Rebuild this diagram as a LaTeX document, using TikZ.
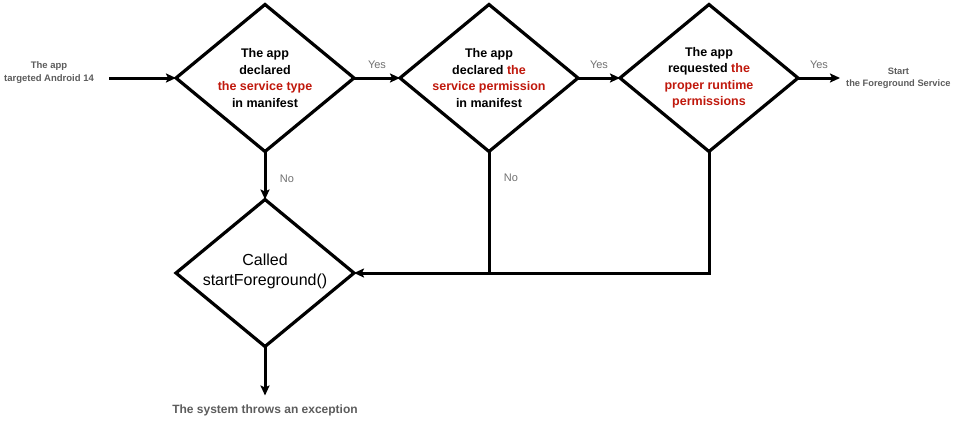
\documentclass[tikz,border=0pt]{standalone}
\usepackage{fontspec}
\setmainfont{Liberation Sans}
\usepackage{tikz}
\usetikzlibrary{arrows.meta, positioning, shapes.geometric}
\definecolor{redtxt}{HTML}{C0180C}
\definecolor{lbl}{HTML}{5C5C5C}
\definecolor{yn}{HTML}{707070}

\begin{document}
\begin{tikzpicture}[
    x=1pt, y=-1pt,
    dia/.style={diamond, draw=black, line width=3.2pt, minimum width=178pt, minimum height=147pt, inner sep=0pt, outer sep=0pt},
    dtxt/.style={align=center, font=\bfseries\fontsize{12.5}{16.5}\selectfont, inner sep=0pt},
    side/.style={align=center, text=lbl, font=\bfseries\fontsize{9.5}{13}\selectfont},
    yes/.style={text=yn, font=\fontsize{11}{13}\selectfont},
    ln/.style={line width=3pt, black},
    ar/.style={ln, -{Stealth[length=10pt, width=9pt, inset=2pt]}}
  ]
    \useasboundingbox (0,0) rectangle (956,423);
    \node[dia] (d1) at (265,78) {};
    \node[dia, right=46pt of d1] (d2) {};
    \node[dia, right=42pt of d2] (d3) {};
    \node[dia, below=48pt of d1] (d4) {};
    \node[dtxt] (t1) at (d1) {The app\\declared\\\textcolor{redtxt}{the service type}\\in manifest};
    \node[dtxt] (t2) at (d2) {The app\\declared \textcolor{redtxt}{the}\\\textcolor{redtxt}{service permission}\\in manifest};
    \node[dtxt] (t3) at (d3) {The app\\requested \textcolor{redtxt}{the}\\\textcolor{redtxt}{proper runtime}\\\textcolor{redtxt}{permissions}};
    \node[dtxt, font=\fontsize{16}{20}\selectfont, yshift=2pt] (t4) at (d4) {Called\\startForeground()};
    \node[side, inner xsep=15pt] (start) at (49,73) {The app\\targeted Android 14};
    \node[side, right=42pt of d3, inner xsep=6pt, font=\bfseries\fontsize{9.3}{12}\selectfont] (fin) {Start\\the Foreground Service};
    \node[side, below=49pt of d4, inner ysep=9pt, font=\bfseries\fontsize{12}{14}\selectfont] (exc) {The system throws an exception};
    \draw[ar] (start.east |- d1.west) -- (d1.west);
    \draw[ar] (d1.east) -- node[yes, above=5pt]{Yes} (d2.west);
    \draw[ar] (d2.east) -- node[yes, above=5pt]{Yes} (d3.west);
    \draw[ar] (d3.east) -- node[yes, above=5pt]{Yes} (fin.west);
    \draw[ar] (d1.south) -- node[yes, right=10pt, yshift=-3pt]{No} (d4.north);
    \draw[ar] (d2.south) -- node[yes, pos=0.22, right=10pt]{No} (d2.south |- d4.east) -- (d4.east);
    \draw[ln] (d3.south) -- (d3.south |- d4.east) -- (d2.south |- d4.east);
    \draw[ar] (d4.south) -- (exc.north);
  \end{tikzpicture}
\end{document}
